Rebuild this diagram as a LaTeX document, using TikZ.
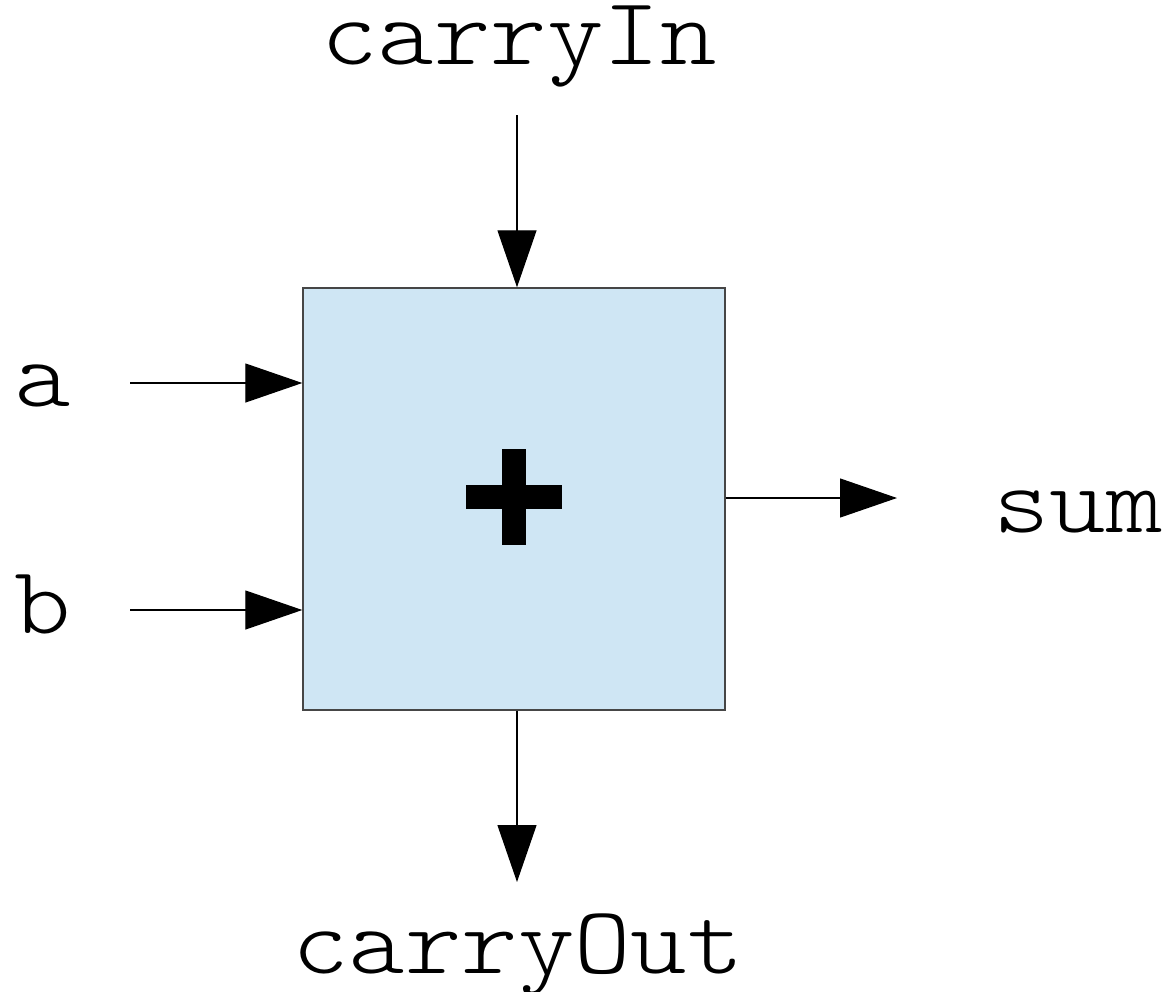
\documentclass[tikz,border=0pt]{standalone}
\usepackage{fontspec}
\newfontfamily\lblfont{Latin Modern Mono Light}[FakeStretch=1.12]
\usetikzlibrary{arrows.meta}
\definecolor{boxfill}{RGB}{207,230,244}
\definecolor{boxedge}{RGB}{70,70,70}
\begin{document}
\begin{tikzpicture}[x=1pt,y=-1pt,
  lbl/.style={font=\fontsize{96}{96}\selectfont\lblfont, inner sep=0pt, anchor=base},
  sig/.style={line width=1.2pt, -{Triangle[length=57pt,width=39pt]}}]
\useasboundingbox (0,0) rectangle (1165,991);
% adder body
\node[draw=boxedge, line width=1.4pt, fill=boxfill, minimum width=422pt, minimum height=422pt, inner sep=0pt] (adder) at (514,499) {};
% plus sign
\fill (502,449) rectangle (526,545);
\fill (466,485) rectangle (562,509);
% labels
\node[lbl] (cin) at (519,64) {carryIn};
\node[lbl] (cout) at (518,973) {carryOut};
\node[lbl] (sum) at (1078,532) {sum};
\node[lbl] (a) at (43,406) {a};
\node[lbl] (b) at (43,633) {b};
% connector end points
\coordinate (cinS) at (517,115);
\coordinate (aS) at (130,383);
\coordinate (bS) at (130,610);
\coordinate (sumE) at (897,498);
\coordinate (coutE) at (517,882);
% signals
\draw[sig] (cinS) -- (cinS |- adder.north);
\draw[sig] (aS) -- (aS -| adder.west);
\draw[sig] (bS) -- (bS -| adder.west);
\draw[sig] (sumE -| adder.east) -- (sumE);
\draw[sig] (coutE |- adder.south) -- (coutE);
\end{tikzpicture}
\end{document}
